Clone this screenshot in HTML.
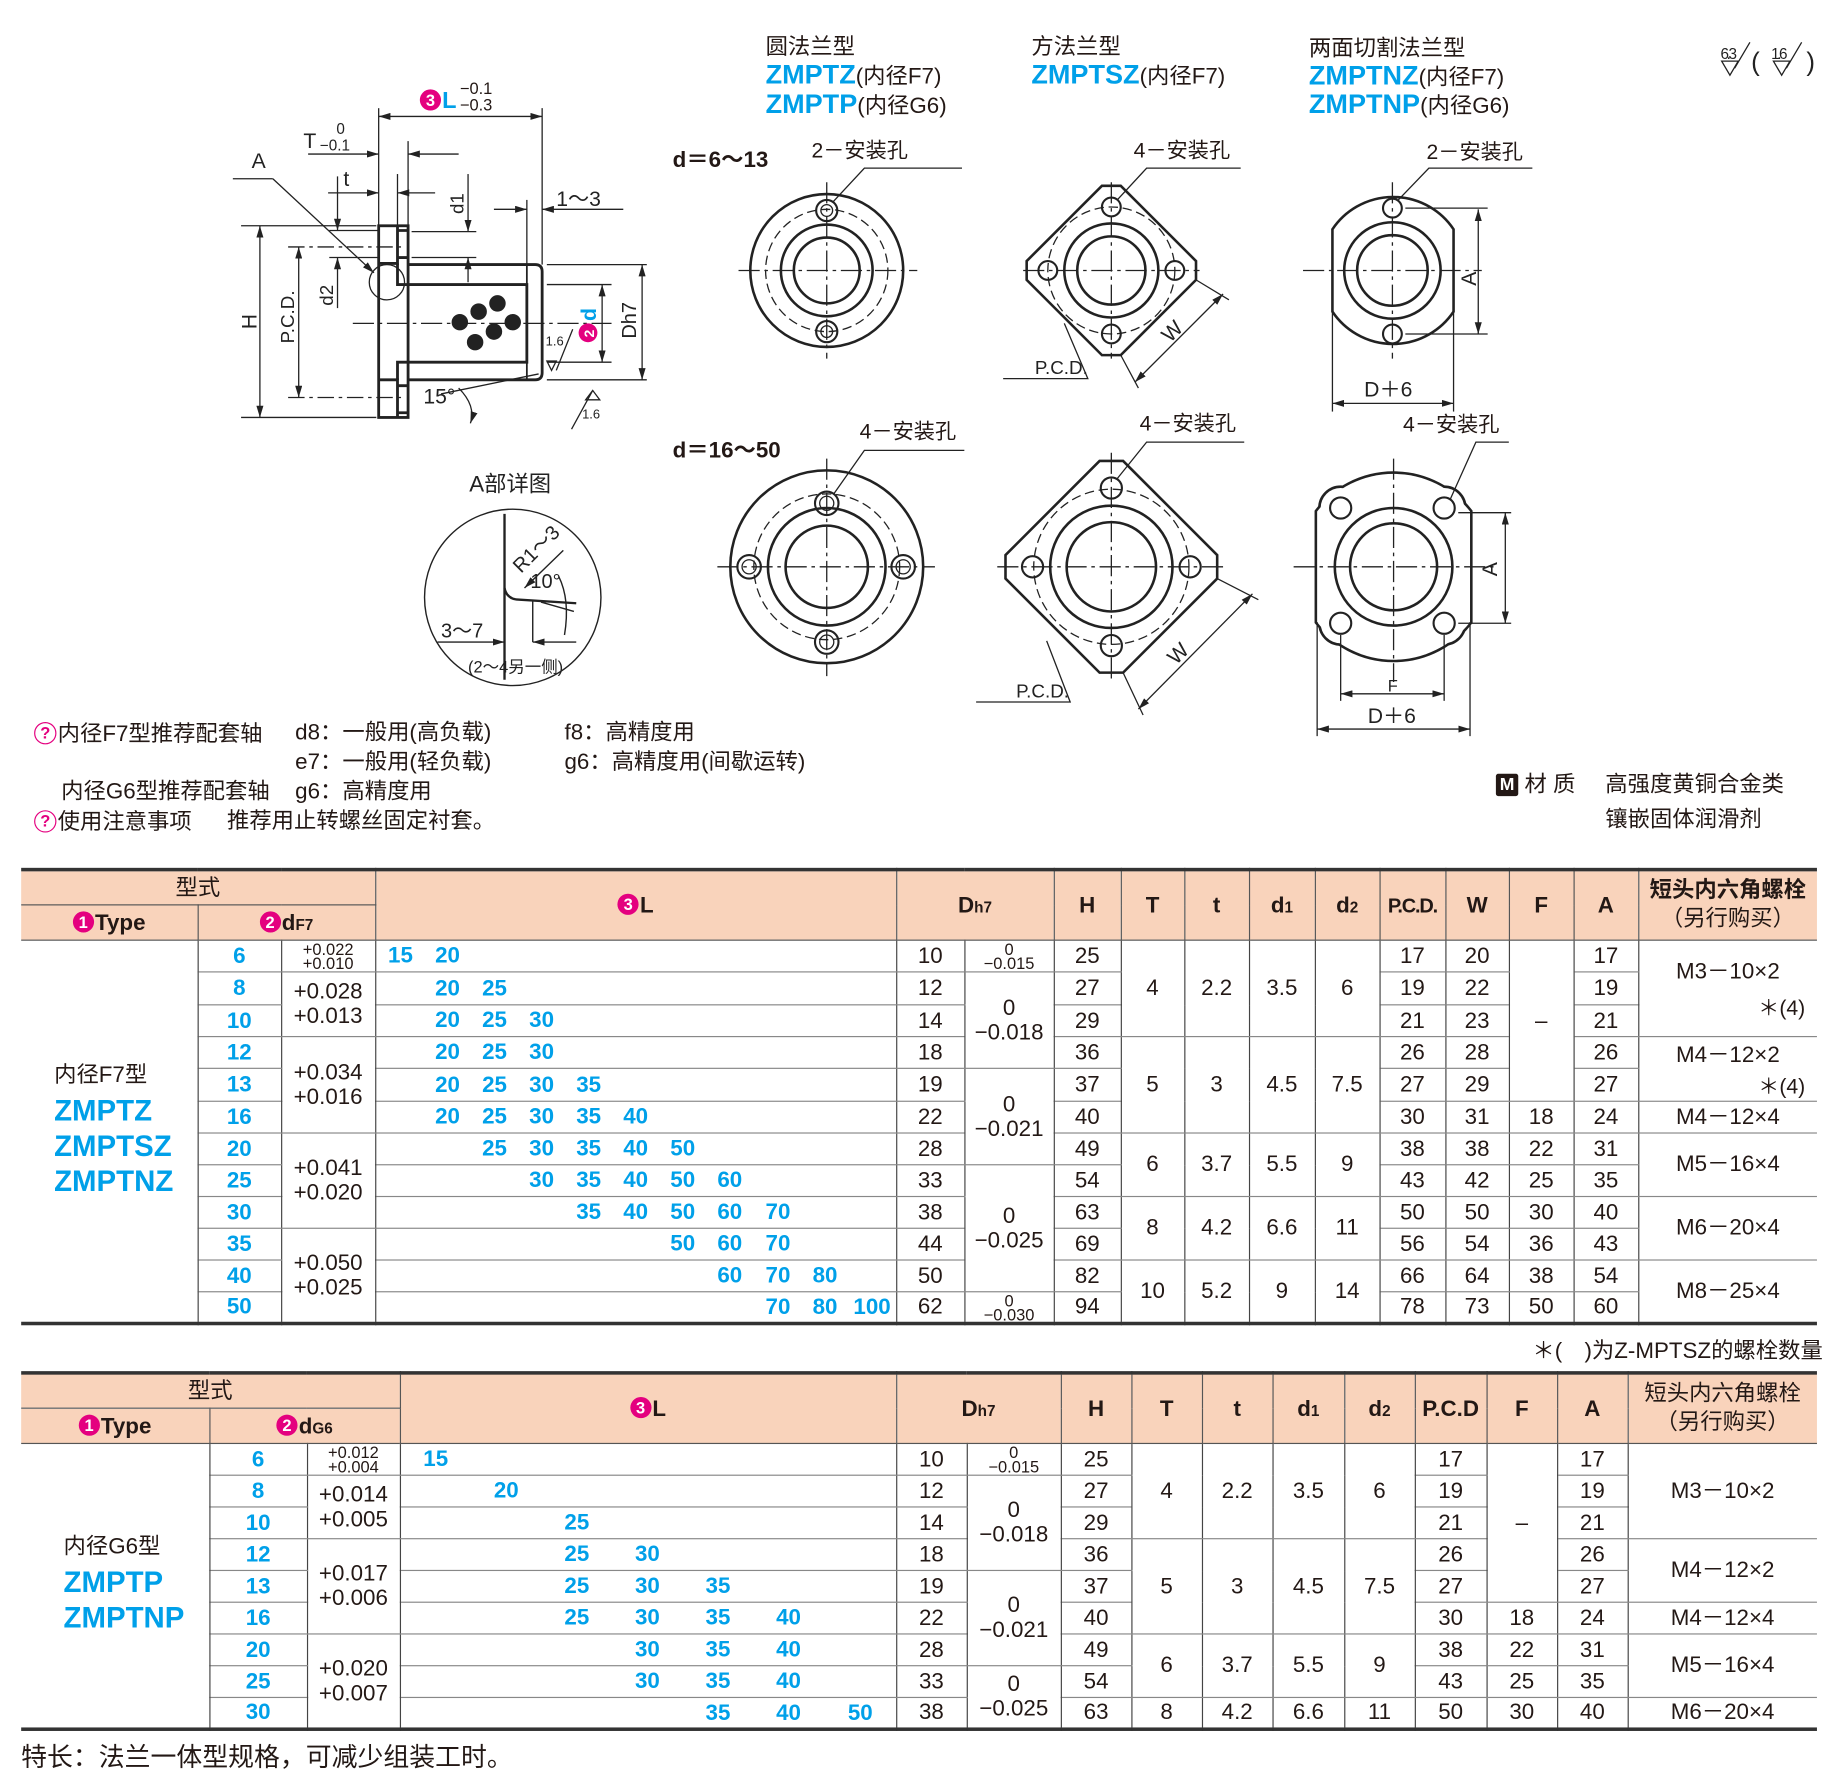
<!DOCTYPE html>
<html><head><meta charset="utf-8">
<style>
html,body{margin:0;padding:0;background:#fff;}
body{width:1844px;height:1778px;overflow:hidden;position:relative;}
#c{position:absolute;left:0;top:0;width:1568px;height:1512px;transform:scale(1.17602,1.17593);transform-origin:0 0;font-family:"Liberation Sans","Noto Sans CJK SC",sans-serif;color:#231815;}
.a{position:absolute;white-space:nowrap;line-height:1;}
.bl{color:#00a0e9;font-weight:bold;}
.pk{display:inline-block;width:18px;height:18px;border-radius:50%;background:#e4007f;color:#fff;font-size:14px;line-height:18px;text-align:center;font-weight:bold;vertical-align:2px;margin-right:1px;}
table.t{position:absolute;left:18px;border-collapse:collapse;table-layout:fixed;font-size:19px;border-top:3px solid #333;border-bottom:3px solid #333;}
table.t td{padding:0;text-align:center;vertical-align:middle;border:1px solid #888;border-left:1.5px solid #444;border-right:1.5px solid #444;line-height:1;overflow:hidden;}
table.t tr.h td{background:#f9d3bb;font-weight:bold;border-color:#555;}
table.t td.f{border-left:none;}
table.t td.l{border-right:none;}
.b{color:#00a0e9;font-weight:bold;}
.sm{font-size:14px;line-height:12px !important;}
.tl{line-height:21px !important;}
.L{position:relative;}
.L div{position:relative;height:100%;}
.L span{position:absolute;top:50%;transform:translateY(-50%);width:40px;text-align:center;color:#00a0e9;font-weight:bold;}
.bo{position:relative;}
.st{position:absolute;right:10px;font-size:18px;}
.ty{text-align:left !important;padding-left:28px !important;}
.ty .n{font-size:19px;font-weight:normal;color:#231815;display:block;margin-bottom:6px;}
.ty .z{font-size:25px;font-weight:bold;color:#00a0e9;display:block;line-height:30px;}
</style></head><body><div id="c">

<svg width="1568" height="760" style="position:absolute;left:0;top:0" viewBox="0 0 1568 760">
<defs>
<marker id="ar" viewBox="0 0 10 6" refX="10" refY="3" markerWidth="10" markerHeight="6" orient="auto-start-reverse" markerUnits="userSpaceOnUse"><path d="M0,0L10,3L0,6z" fill="#222"/></marker>
</defs>
<g stroke="#222" fill="none" stroke-width="1.1">
<line x1="322" y1="99" x2="461" y2="99" marker-start="url(#ar)" marker-end="url(#ar)"/>
<line x1="322" y1="92" x2="322" y2="192"/><line x1="461" y1="92" x2="461" y2="225"/>
<line x1="262" y1="131" x2="322" y2="131" marker-end="url(#ar)"/><line x1="390" y1="131" x2="347" y2="131" marker-end="url(#ar)"/>
<line x1="347" y1="120" x2="347" y2="192"/>
<line x1="279" y1="164" x2="322" y2="164" marker-end="url(#ar)"/><line x1="370" y1="164" x2="338" y2="164" marker-end="url(#ar)"/>
<line x1="338" y1="148" x2="338" y2="192"/>
<line x1="198" y1="152" x2="232" y2="152"/><line x1="232" y1="152" x2="318" y2="232" marker-end="url(#ar)"/>
<line x1="221" y1="192" x2="221" y2="355" marker-start="url(#ar)" marker-end="url(#ar)"/>
<line x1="205" y1="192" x2="320" y2="192"/><line x1="205" y1="355" x2="320" y2="355"/>
<line x1="254" y1="210" x2="254" y2="338" marker-start="url(#ar)" marker-end="url(#ar)"/>
<line x1="245" y1="210" x2="345" y2="210" stroke-dasharray="14,4,3,4"/><line x1="245" y1="338" x2="345" y2="338" stroke-dasharray="14,4,3,4"/>
<line x1="287" y1="150" x2="287" y2="196" marker-end="url(#ar)"/><line x1="287" y1="262" x2="287" y2="219" marker-end="url(#ar)"/>
<line x1="280" y1="196" x2="322" y2="196"/><line x1="280" y1="219" x2="322" y2="219"/>
<line x1="398" y1="148" x2="398" y2="197" marker-end="url(#ar)"/><line x1="398" y1="240" x2="398" y2="219" marker-end="url(#ar)"/>
<line x1="350" y1="197" x2="405" y2="197"/><line x1="350" y1="219" x2="405" y2="219"/>
<line x1="420" y1="178" x2="448" y2="178" marker-end="url(#ar)"/><line x1="530" y1="178" x2="461" y2="178" marker-end="url(#ar)"/>
<line x1="448" y1="170" x2="448" y2="225"/>
<line x1="465" y1="225" x2="550" y2="225"/><line x1="465" y1="323" x2="550" y2="323"/>
<line x1="465" y1="242" x2="520" y2="242"/><line x1="465" y1="308" x2="520" y2="308"/>
<line x1="546" y1="225" x2="546" y2="323" marker-start="url(#ar)" marker-end="url(#ar)"/>
<line x1="512" y1="242" x2="512" y2="308" marker-start="url(#ar)" marker-end="url(#ar)"/>
<path d="M465,307 l4,8 l4,-8 z M473,315 L487,280"/>
<path d="M498,340 l6,-8 l6,8 z M486,365 L504,332"/>
<line x1="300" y1="275" x2="520" y2="275" stroke-dasharray="18,4,3,4"/>
<circle cx="329" cy="240" r="15"/>
<path d="M390,330 Q405,345 400,360" marker-end="url(#ar)"/>
<path d="M375,335 L458,318"/>
</g>
<g stroke="#222" fill="none" stroke-width="2.4">
<rect x="322" y="192" width="25" height="163"/>
<path d="M322,224 H338 V192 M338,196 H347 M338,219 H347"/>
<path d="M322,323 H338 V355 M338,328 H347 M338,351 H347"/>
<path d="M347,225 H455 Q461,225 461,231 V317 Q461,323 455,323 H347"/>
<path d="M338,224 V242 H448 V308 H338 V323"/>
<line x1="448" y1="225" x2="448" y2="323" stroke-width="1.5"/>
</g>
<g fill="#222"><circle cx="423" cy="258" r="7"/><circle cx="407" cy="265" r="7"/><circle cx="391" cy="274" r="7"/><circle cx="436" cy="274" r="7"/><circle cx="420" cy="282" r="7"/><circle cx="404" cy="291" r="7"/></g>
<g font-family="Liberation Sans,sans-serif" font-size="18" fill="#222">
<text x="214" y="143">A</text>
<text x="258" y="126">T</text><text x="286" y="114" font-size="13">0</text><text x="272" y="128" font-size="13">−0.1</text>
<text x="292" y="158">t</text>
<text x="473" y="175">1～3</text>
<text x="360" y="343">15°</text>
<text x="464" y="294" font-size="11">1.6</text><text x="495" y="356" font-size="11">1.6</text>
<text transform="translate(218,280) rotate(-90)">H</text>
<text transform="translate(250,292) rotate(-90)" font-size="16">P.C.D.</text>
<text transform="translate(283,260) rotate(-90)" font-size="16">d2</text>
<text transform="translate(394,182) rotate(-90)" font-size="16">d1</text>
<text transform="translate(541,288) rotate(-90)" font-size="17">Dh7</text>
<text x="399" y="418" font-size="19">A部详图</text>
</g>
<g transform="translate(500,283) rotate(-90)"><circle cx="0" cy="0" r="8" fill="#e4007f"/><text x="-4" y="5" font-size="12" fill="#fff" font-weight="bold" font-family="Liberation Sans">2</text><text x="10" y="7" font-size="18" fill="#00a0e9" font-weight="bold" font-family="Liberation Sans">d</text></g>
<g stroke="#222" fill="none" stroke-width="1.2">
<circle cx="436" cy="508" r="75"/>
<path d="M429,437 V578" stroke-width="2"/>
<path d="M429,500 Q431,510 442,510 L490,513" stroke-width="2"/>
<line x1="453" y1="511" x2="453" y2="546"/>
<line x1="460" y1="512" x2="488" y2="520"/>
<line x1="372" y1="546" x2="429" y2="546" marker-end="url(#ar)"/><line x1="490" y1="546" x2="453" y2="546" marker-end="url(#ar)"/>
<line x1="479" y1="468" x2="446" y2="500" marker-end="url(#ar)"/>
<path d="M475,490 Q485,510 480,540"/>
</g>
<g font-family="Liberation Sans,sans-serif" font-size="17" fill="#222">
<text transform="translate(443,488) rotate(-45)">R1～3</text>
<text x="451" y="500">10°</text>
<text x="375" y="542">3～7</text>
<text x="398" y="572" font-size="14">(2～4另一侧)</text>
</g>

<g stroke="#222" fill="none" stroke-width="1.1">
<line x1="628" y1="230" x2="780" y2="230" stroke-dasharray="18,4,3,4"/><line x1="703" y1="155" x2="703" y2="305" stroke-dasharray="18,4,3,4"/>
<circle cx="703" cy="230" r="52" stroke-dasharray="8,4"/>
<circle cx="703" cy="230" r="65" stroke-width="2.2"/>
<circle cx="703" cy="230" r="39" stroke-width="2.2"/>
<circle cx="703" cy="230" r="28" stroke-width="2.2"/>
<circle cx="703" cy="179" r="9" stroke-width="1.8"/><circle cx="703" cy="179" r="5"/>
<circle cx="703" cy="282" r="9" stroke-width="1.8"/><circle cx="703" cy="282" r="5"/>
<path d="M708,172 L735,143 H818"/>
<polygon points="937,158 953,158 1017,222 1017,238 953,302 937,302 873,238 873,222" stroke-width="2.2"/>
<circle cx="945" cy="230" r="54" stroke-dasharray="8,4"/>
<circle cx="945" cy="230" r="40" stroke-width="2.2"/><circle cx="945" cy="230" r="29" stroke-width="2.2"/>
<circle cx="945" cy="176" r="8" stroke-width="1.8"/><circle cx="891" cy="230" r="8" stroke-width="1.8"/><circle cx="999" cy="230" r="8" stroke-width="1.8"/><circle cx="945" cy="284" r="8" stroke-width="1.8"/>
<line x1="870" y1="230" x2="1020" y2="230" stroke-dasharray="18,4,3,4"/><line x1="945" y1="155" x2="945" y2="305" stroke-dasharray="18,4,3,4"/>
<path d="M950,170 L975,143 H1055"/>
<line x1="1040" y1="250" x2="965" y2="325" marker-start="url(#ar)" marker-end="url(#ar)"/>
<line x1="1017" y1="238" x2="1045" y2="255"/><line x1="953" y1="302" x2="968" y2="330"/>
<path d="M853,322 H925 L905,275"/>
<path d="M1133,195 A62,62 0 0 1 1236,195 V265 A62,62 0 0 1 1133,265 Z" stroke-width="2.2"/>
<circle cx="1184" cy="230" r="41" stroke-width="2.2"/><circle cx="1184" cy="230" r="30" stroke-width="2.2"/>
<circle cx="1184" cy="177" r="8" stroke-width="1.8"/><circle cx="1184" cy="284" r="8" stroke-width="1.8"/>
<line x1="1108" y1="230" x2="1260" y2="230" stroke-dasharray="18,4,3,4"/><line x1="1184" y1="155" x2="1184" y2="305" stroke-dasharray="18,4,3,4"/>
<path d="M1189,170 L1215,143 H1303"/>
<line x1="1257" y1="178" x2="1257" y2="284" marker-start="url(#ar)" marker-end="url(#ar)"/>
<line x1="1195" y1="177" x2="1265" y2="177"/><line x1="1195" y1="284" x2="1265" y2="284"/>
<line x1="1133" y1="343" x2="1236" y2="343" marker-start="url(#ar)" marker-end="url(#ar)"/>
<line x1="1133" y1="265" x2="1133" y2="350"/><line x1="1236" y1="265" x2="1236" y2="350"/>

<line x1="610" y1="482" x2="795" y2="482" stroke-dasharray="18,4,3,4"/><line x1="703" y1="390" x2="703" y2="575" stroke-dasharray="18,4,3,4"/>
<circle cx="703" cy="482" r="82" stroke-width="2.2"/>
<circle cx="703" cy="482" r="62" stroke-dasharray="8,4"/>
<circle cx="703" cy="482" r="50" stroke-width="2.2"/><circle cx="703" cy="482" r="35" stroke-width="2.2"/>
<circle cx="703" cy="428" r="10" stroke-width="1.8"/><circle cx="703" cy="428" r="6"/>
<circle cx="703" cy="546" r="10" stroke-width="1.8"/><circle cx="703" cy="546" r="6"/>
<circle cx="637" cy="482" r="10" stroke-width="1.8"/><circle cx="637" cy="482" r="6"/>
<circle cx="768" cy="482" r="10" stroke-width="1.8"/><circle cx="768" cy="482" r="6"/>
<path d="M709,420 L735,383 H820"/>
<polygon points="935,392 955,392 1035,472 1035,492 955,572 935,572 855,492 855,472" stroke-width="2.2"/>
<circle cx="945" cy="482" r="66" stroke-dasharray="8,4"/>
<circle cx="945" cy="482" r="52" stroke-width="2.2"/><circle cx="945" cy="482" r="38" stroke-width="2.2"/>
<circle cx="945" cy="415" r="9" stroke-width="1.8"/><circle cx="878" cy="482" r="9" stroke-width="1.8"/><circle cx="1012" cy="482" r="9" stroke-width="1.8"/><circle cx="945" cy="549" r="9" stroke-width="1.8"/>
<line x1="848" y1="482" x2="1042" y2="482" stroke-dasharray="18,4,3,4"/><line x1="945" y1="385" x2="945" y2="580" stroke-dasharray="18,4,3,4"/>
<path d="M950,407 L975,376 H1058"/>
<line x1="1065" y1="505" x2="968" y2="603" marker-start="url(#ar)" marker-end="url(#ar)"/>
<line x1="1035" y1="492" x2="1070" y2="510"/><line x1="955" y1="572" x2="972" y2="608"/>
<path d="M830,597 H910 L890,545"/>
</g>
<g stroke="#222" stroke-width="4.4" fill="none">
<path d="M1120,435 A82,82 0 0 1 1250,435 V529 A82,82 0 0 1 1120,529 Z"/>
<circle cx="1140" cy="432" r="17"/><circle cx="1228" cy="432" r="17"/><circle cx="1140" cy="530" r="17"/><circle cx="1228" cy="530" r="17"/>
</g>
<g fill="#fff">
<path d="M1120,435 A82,82 0 0 1 1250,435 V529 A82,82 0 0 1 1120,529 Z"/>
<circle cx="1140" cy="432" r="17"/><circle cx="1228" cy="432" r="17"/><circle cx="1140" cy="530" r="17"/><circle cx="1228" cy="530" r="17"/>
</g>
<g stroke="#222" fill="none" stroke-width="1.1">
<circle cx="1185" cy="482" r="50" stroke-width="2.2"/><circle cx="1185" cy="482" r="37" stroke-width="2.2"/>
<circle cx="1140" cy="432" r="9" stroke-width="1.8"/><circle cx="1228" cy="432" r="9" stroke-width="1.8"/><circle cx="1140" cy="530" r="9" stroke-width="1.8"/><circle cx="1228" cy="530" r="9" stroke-width="1.8"/>
<line x1="1100" y1="482" x2="1270" y2="482" stroke-dasharray="18,4,3,4"/><line x1="1185" y1="390" x2="1185" y2="580" stroke-dasharray="18,4,3,4"/>
<path d="M1233,425 L1255,376 H1283"/>
<line x1="1280" y1="436" x2="1280" y2="530" marker-start="url(#ar)" marker-end="url(#ar)"/>
<line x1="1240" y1="436" x2="1285" y2="436"/><line x1="1240" y1="530" x2="1285" y2="530"/>
<line x1="1140" y1="590" x2="1228" y2="590" marker-start="url(#ar)" marker-end="url(#ar)"/>
<line x1="1140" y1="540" x2="1140" y2="596"/><line x1="1228" y1="540" x2="1228" y2="596"/>
<line x1="1120" y1="620" x2="1250" y2="620" marker-start="url(#ar)" marker-end="url(#ar)"/>
<line x1="1120" y1="529" x2="1120" y2="626"/><line x1="1250" y1="529" x2="1250" y2="626"/>
<path d="M1464,52 l7,12 l7,-12 z M1475,58 L1488,36 M1508,52 l7,12 l7,-12 z M1519,58 L1532,36"/>
</g>
<g font-family="Liberation Sans,Noto Sans CJK SC,sans-serif" font-size="18" fill="#222">
<text x="880" y="318" font-size="16">P.C.D.</text>
<text x="864" y="593" font-size="16">P.C.D.</text>
<text transform="translate(995,292) rotate(-45)">W</text>
<text transform="translate(1000,566) rotate(-45)">W</text>
<text transform="translate(1255,243) rotate(-90)">A</text>
<text transform="translate(1273,490) rotate(-90)">A</text>
<text x="1160" y="337">D＋6</text>
<text x="1163" y="615">D＋6</text>
<text x="1180" y="588" font-size="14">F</text>
<text x="1463" y="50" font-size="13" textLength="14">6.3</text><text x="1489" y="60" font-size="22">(</text><text x="1506" y="50" font-size="13" textLength="14">1.6</text><text x="1536" y="60" font-size="22">)</text>
</g>
</svg>

<div class="a" style="left:651px;top:31px;font-size:19px">圆法兰型</div>
<div class="a" style="left:651px;top:52px;font-size:19px"><span class="bl" style="font-size:23px">ZMPTZ</span>(内径F7)</div>
<div class="a" style="left:651px;top:77px;font-size:19px"><span class="bl" style="font-size:23px">ZMPTP</span>(内径G6)</div>
<div class="a" style="left:877px;top:31px;font-size:19px">方法兰型</div>
<div class="a" style="left:877px;top:52px;font-size:19px"><span class="bl" style="font-size:23px">ZMPTSZ</span>(内径F7)</div>
<div class="a" style="left:1113px;top:32px;font-size:19px">两面切割法兰型</div>
<div class="a" style="left:1113px;top:53px;font-size:19px"><span class="bl" style="font-size:23px">ZMPTNZ</span>(内径F7)</div>
<div class="a" style="left:1113px;top:77px;font-size:19px"><span class="bl" style="font-size:23px">ZMPTNP</span>(内径G6)</div>
<div class="a" style="left:572px;top:127px;font-size:19px;font-weight:bold">d＝6～13</div>
<div class="a" style="left:572px;top:374px;font-size:19px;font-weight:bold">d＝16～50</div>
<div class="a" style="left:690px;top:119px;font-size:18px">2－安装孔</div>
<div class="a" style="left:964px;top:119px;font-size:18px">4－安装孔</div>
<div class="a" style="left:1213px;top:120px;font-size:18px">2－安装孔</div>
<div class="a" style="left:731px;top:358px;font-size:18px">4－安装孔</div>
<div class="a" style="left:969px;top:351px;font-size:18px">4－安装孔</div>
<div class="a" style="left:1193px;top:352px;font-size:18px">4－安装孔</div>
<div class="a" style="left:357px;top:76px;font-size:19px"><span class="pk">3</span><span class="bl" style="font-size:20px">L</span></div>
<div class="a" style="left:391px;top:68px;font-size:14px;line-height:14px">−0.1<br>−0.3</div>

<div class="a" style="left:29px;top:614px;font-size:19px"><span class="pk" style="background:#fff;color:#e4007f;border:1.5px solid #e4007f;width:17px;height:17px;line-height:17px">?</span>内径F7型推荐配套轴</div>
<div class="a" style="left:251px;top:614px;font-size:19px">d8：一般用(高负载)</div>
<div class="a" style="left:480px;top:614px;font-size:19px">f8：高精度用</div>
<div class="a" style="left:251px;top:639px;font-size:19px">e7：一般用(轻负载)</div>
<div class="a" style="left:480px;top:639px;font-size:19px">g6：高精度用(间歇运转)</div>
<div class="a" style="left:52px;top:664px;font-size:19px">内径G6型推荐配套轴</div>
<div class="a" style="left:251px;top:664px;font-size:19px">g6：高精度用</div>
<div class="a" style="left:29px;top:689px;font-size:19px"><span class="pk" style="background:#fff;color:#e4007f;border:1.5px solid #e4007f;width:17px;height:17px;line-height:17px">?</span>使用注意事项</div>
<div class="a" style="left:193px;top:689px;font-size:19px">推荐用止转螺丝固定衬套。</div>
<div class="a" style="left:1272px;top:658px;font-size:19px"><span style="display:inline-block;background:#231815;color:#fff;font-weight:bold;font-size:15px;width:19px;height:19px;line-height:19px;text-align:center;border-radius:2px;vertical-align:1px">M</span> 材 质</div>
<div class="a" style="left:1365px;top:658px;font-size:19px">高强度黄铜合金类</div>
<div class="a" style="left:1365px;top:688px;font-size:19px">镶嵌固体润滑剂</div>

<table class="t" style="top:738px;width:1527px">
<colgroup><col style="width:150px"><col style="width:71px"><col style="width:80px"><col style="width:443px"><col style="width:58px"><col style="width:76px"><col style="width:57px"><col style="width:54px"><col style="width:55px"><col style="width:56px"><col style="width:55px"><col style="width:56px"><col style="width:54px"><col style="width:55px"><col style="width:55px"><col style="width:152px"></colgroup>
<tr class="h" style="height:30px"><td colspan="3" class="f" style="font-weight:normal">型式</td><td rowspan="2"><span class="pk">3</span>L</td><td rowspan="2" colspan="2">D<span style="font-size:13px">h7</span></td><td rowspan="2">H</td><td rowspan="2">T</td><td rowspan="2">t</td><td rowspan="2">d<span style="font-size:13px">1</span></td><td rowspan="2">d<span style="font-size:13px">2</span></td><td rowspan="2" style="font-size:17px;letter-spacing:-1px">P.C.D.</td><td rowspan="2">W</td><td rowspan="2">F</td><td rowspan="2">A</td><td rowspan="2" class="l" style="line-height:24px">短头内六角螺栓<br><span style="font-weight:normal">（另行购买）</span></td></tr>
<tr class="h" style="height:30px"><td class="f"><span class="pk">1</span>Type</td><td colspan="2"><span class="pk">2</span>d<span style="font-size:13px">F7</span></td></tr>
<tr style="height:27px"><td rowspan="12" class="f ty"><span class="n">内径F7型</span><span class="z">ZMPTZ</span><span class="z">ZMPTSZ</span><span class="z">ZMPTNZ</span></td><td class="b">6</td><td class="sm">+0.022<br>+0.010</td><td class="L"><div><span style="left:1px">15</span><span style="left:41px">20</span></div></td><td>10</td><td class="sm">0<br>−0.015</td><td>25</td><td rowspan="3">4</td><td rowspan="3">2.2</td><td rowspan="3">3.5</td><td rowspan="3">6</td><td>17</td><td>20</td><td rowspan="5">–</td><td>17</td><td rowspan="3" class="l bo" style="vertical-align:top"><div style="position:relative;height:81px"><div class="a" style="left:0;right:0;top:17px">M3－10×2</div><div class="st" style="top:48px">＊(4)</div></div></td></tr>
<tr style="height:27px"><td class="b">8</td><td rowspan="2" class="tl">+0.028<br>+0.013</td><td class="L"><div><span style="left:41px">20</span><span style="left:81px">25</span></div></td><td>12</td><td rowspan="3" class="tl">0<br>−0.018</td><td>27</td><td>19</td><td>22</td><td>19</td></tr>
<tr style="height:27px"><td class="b">10</td><td class="L"><div><span style="left:41px">20</span><span style="left:81px">25</span><span style="left:121px">30</span></div></td><td>14</td><td>29</td><td>21</td><td>23</td><td>21</td></tr>
<tr style="height:27px"><td class="b">12</td><td rowspan="3" class="tl">+0.034<br>+0.016</td><td class="L"><div><span style="left:41px">20</span><span style="left:81px">25</span><span style="left:121px">30</span></div></td><td>18</td><td>36</td><td rowspan="3">5</td><td rowspan="3">3</td><td rowspan="3">4.5</td><td rowspan="3">7.5</td><td>26</td><td>28</td><td>26</td><td rowspan="2" class="l" style="vertical-align:top"><div style="position:relative;height:54px"><div class="a" style="left:0;right:0;top:6px">M4－12×2</div><div class="st" style="top:33px">＊(4)</div></div></td></tr>
<tr style="height:27px"><td class="b">13</td><td class="L"><div><span style="left:41px">20</span><span style="left:81px">25</span><span style="left:121px">30</span><span style="left:161px">35</span></div></td><td>19</td><td rowspan="3" class="tl">0<br>−0.021</td><td>37</td><td>27</td><td>29</td><td>27</td></tr>
<tr style="height:27px"><td class="b">16</td><td class="L"><div><span style="left:41px">20</span><span style="left:81px">25</span><span style="left:121px">30</span><span style="left:161px">35</span><span style="left:201px">40</span></div></td><td>22</td><td>40</td><td>30</td><td>31</td><td>18</td><td>24</td><td class="l">M4－12×4</td></tr>
<tr style="height:27px"><td class="b">20</td><td rowspan="3" class="tl">+0.041<br>+0.020</td><td class="L"><div><span style="left:81px">25</span><span style="left:121px">30</span><span style="left:161px">35</span><span style="left:201px">40</span><span style="left:241px">50</span></div></td><td>28</td><td>49</td><td rowspan="2">6</td><td rowspan="2">3.7</td><td rowspan="2">5.5</td><td rowspan="2">9</td><td>38</td><td>38</td><td>22</td><td>31</td><td rowspan="2" class="l">M5－16×4</td></tr>
<tr style="height:27px"><td class="b">25</td><td class="L"><div><span style="left:121px">30</span><span style="left:161px">35</span><span style="left:201px">40</span><span style="left:241px">50</span><span style="left:281px">60</span></div></td><td>33</td><td rowspan="4" class="tl">0<br>−0.025</td><td>54</td><td>43</td><td>42</td><td>25</td><td>35</td></tr>
<tr style="height:27px"><td class="b">30</td><td class="L"><div><span style="left:161px">35</span><span style="left:201px">40</span><span style="left:241px">50</span><span style="left:281px">60</span><span style="left:322px">70</span></div></td><td>38</td><td>63</td><td rowspan="2">8</td><td rowspan="2">4.2</td><td rowspan="2">6.6</td><td rowspan="2">11</td><td>50</td><td>50</td><td>30</td><td>40</td><td rowspan="2" class="l">M6－20×4</td></tr>
<tr style="height:27px"><td class="b">35</td><td rowspan="3" class="tl">+0.050<br>+0.025</td><td class="L"><div><span style="left:241px">50</span><span style="left:281px">60</span><span style="left:322px">70</span></div></td><td>44</td><td>69</td><td>56</td><td>54</td><td>36</td><td>43</td></tr>
<tr style="height:27px"><td class="b">40</td><td class="L"><div><span style="left:281px">60</span><span style="left:322px">70</span><span style="left:362px">80</span></div></td><td>50</td><td>82</td><td rowspan="2">10</td><td rowspan="2">5.2</td><td rowspan="2">9</td><td rowspan="2">14</td><td>66</td><td>64</td><td>38</td><td>54</td><td rowspan="2" class="l">M8－25×4</td></tr>
<tr style="height:27px"><td class="b">50</td><td class="L"><div><span style="left:322px">70</span><span style="left:362px">80</span><span style="left:402px">100</span></div></td><td>62</td><td class="sm">0<br>−0.030</td><td>94</td><td>78</td><td>73</td><td>50</td><td>60</td></tr>
</table>

<div class="a" style="left:1303px;top:1140px;font-size:19px">＊(　)为Z-MPTSZ的螺栓数量</div>

<table class="t" style="top:1166px;width:1527px">
<colgroup><col style="width:160px"><col style="width:83px"><col style="width:79px"><col style="width:422px"><col style="width:60px"><col style="width:80px"><col style="width:60px"><col style="width:60px"><col style="width:60px"><col style="width:61px"><col style="width:60px"><col style="width:61px"><col style="width:60px"><col style="width:60px"><col style="width:161px"></colgroup>
<tr class="h" style="height:30px"><td colspan="3" class="f" style="font-weight:normal">型式</td><td rowspan="2"><span class="pk">3</span>L</td><td rowspan="2" colspan="2">D<span style="font-size:13px">h7</span></td><td rowspan="2">H</td><td rowspan="2">T</td><td rowspan="2">t</td><td rowspan="2">d<span style="font-size:13px">1</span></td><td rowspan="2">d<span style="font-size:13px">2</span></td><td rowspan="2">P.C.D</td><td rowspan="2">F</td><td rowspan="2">A</td><td rowspan="2" class="l" style="line-height:24px;font-weight:normal">短头内六角螺栓<br>（另行购买）</td></tr>
<tr class="h" style="height:30px"><td class="f"><span class="pk">1</span>Type</td><td colspan="2"><span class="pk">2</span>d<span style="font-size:13px">G6</span></td></tr>
<tr style="height:27px"><td rowspan="9" class="f ty" style="padding-left:36px !important"><span class="n">内径G6型</span><span class="z">ZMPTP</span><span class="z">ZMPTNP</span></td><td class="b">6</td><td class="sm">+0.012<br>+0.004</td><td class="L"><div><span style="left:10px">15</span></div></td><td>10</td><td class="sm">0<br>−0.015</td><td>25</td><td rowspan="3">4</td><td rowspan="3">2.2</td><td rowspan="3">3.5</td><td rowspan="3">6</td><td>17</td><td rowspan="5">–</td><td>17</td><td rowspan="3" class="l">M3－10×2</td></tr>
<tr style="height:27px"><td class="b">8</td><td rowspan="2" class="tl">+0.014<br>+0.005</td><td class="L"><div><span style="left:70px">20</span></div></td><td>12</td><td rowspan="3" class="tl">0<br>−0.018</td><td>27</td><td>19</td><td>19</td></tr>
<tr style="height:27px"><td class="b">10</td><td class="L"><div><span style="left:130px">25</span></div></td><td>14</td><td>29</td><td>21</td><td>21</td></tr>
<tr style="height:27px"><td class="b">12</td><td rowspan="3" class="tl">+0.017<br>+0.006</td><td class="L"><div><span style="left:130px">25</span><span style="left:190px">30</span></div></td><td>18</td><td>36</td><td rowspan="3">5</td><td rowspan="3">3</td><td rowspan="3">4.5</td><td rowspan="3">7.5</td><td>26</td><td>26</td><td rowspan="2" class="l">M4－12×2</td></tr>
<tr style="height:27px"><td class="b">13</td><td class="L"><div><span style="left:130px">25</span><span style="left:190px">30</span><span style="left:250px">35</span></div></td><td>19</td><td rowspan="3" class="tl">0<br>−0.021</td><td>37</td><td>27</td><td>27</td></tr>
<tr style="height:27px"><td class="b">16</td><td class="L"><div><span style="left:130px">25</span><span style="left:190px">30</span><span style="left:250px">35</span><span style="left:310px">40</span></div></td><td>22</td><td>40</td><td>30</td><td>18</td><td>24</td><td class="l">M4－12×4</td></tr>
<tr style="height:27px"><td class="b">20</td><td rowspan="3" class="tl">+0.020<br>+0.007</td><td class="L"><div><span style="left:190px">30</span><span style="left:250px">35</span><span style="left:310px">40</span></div></td><td>28</td><td>49</td><td rowspan="2">6</td><td rowspan="2">3.7</td><td rowspan="2">5.5</td><td rowspan="2">9</td><td>38</td><td>22</td><td>31</td><td rowspan="2" class="l">M5－16×4</td></tr>
<tr style="height:27px"><td class="b">25</td><td class="L"><div><span style="left:190px">30</span><span style="left:250px">35</span><span style="left:310px">40</span></div></td><td>33</td><td rowspan="2" class="tl">0<br>−0.025</td><td>54</td><td>43</td><td>25</td><td>35</td></tr>
<tr style="height:27px"><td class="b">30</td><td class="L"><div><span style="left:250px">35</span><span style="left:310px">40</span><span style="left:371px">50</span></div></td><td>38</td><td>63</td><td>8</td><td>4.2</td><td>6.6</td><td>11</td><td>50</td><td>30</td><td>40</td><td class="l">M6－20×4</td></tr>
</table>

<div class="a" style="left:18px;top:1484px;font-size:22px">特长：法兰一体型规格，可减少组装工时。</div>
</div></body></html>
